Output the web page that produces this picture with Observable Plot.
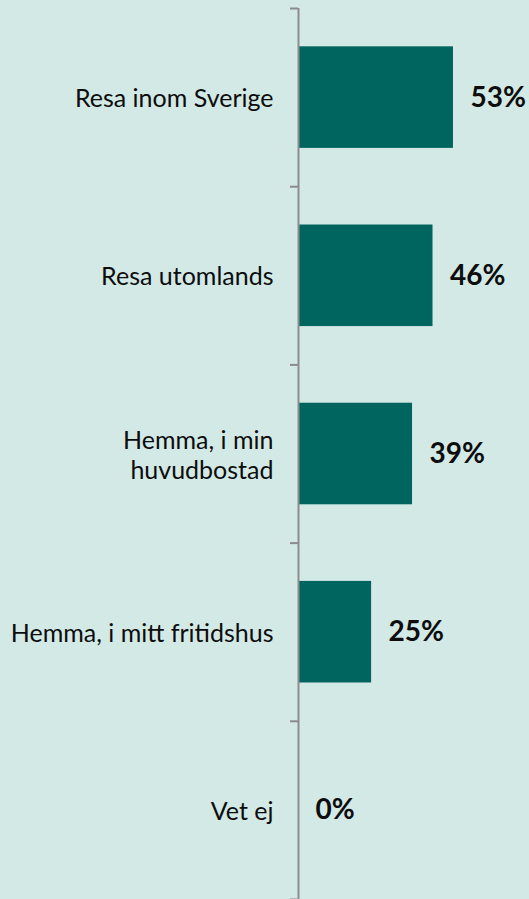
<!DOCTYPE html>
<html><head><meta charset="utf-8">
<script src="https://cdn.jsdelivr.net/npm/d3@7"></script>
<script src="https://cdn.jsdelivr.net/npm/@observablehq/plot@0.6"></script>
<style>html,body{margin:0;padding:0;background:#d2e9e6;}</style>
</head><body><div id="chart"></div>
<script>
const categories = ["Resa inom Sverige", "Resa utomlands", "Hemma, i min\nhuvudbostad", "Hemma, i mitt fritidshus", "Vet ej"];
const values = [53, 46, 39, 25, 0];
const valueLabels = ["53%", "46%", "39%", "25%", "0%"];

const data = categories.map((c, i) => ({category: c, value: values[i], label: valueLabels[i], i}));
const barPad = 0.215;

const chart = Plot.plot({
  width: 529, height: 899,
  marginLeft: 298, marginRight: 0, marginTop: 8, marginBottom: 0,
  style: {background: "#d2e9e6", fontFamily: "Lato, sans-serif", color: "#0d0d0d"},
  x: {domain: [0, 79], axis: null},
  y: {domain: [0, categories.length], reverse: true, axis: null},
  marks: [
    Plot.rectX(data, {x1: 0, x2: "value", y1: d => d.i + barPad, y2: d => d.i + 1 - barPad, fill: "#00645f"}),
    Plot.axisY({ticks: d3.range(categories.length + 1), tickFormat: () => "", tickSize: 8, stroke: "#8c8c8c", strokeWidth: 2, strokeOpacity: 1}),
    Plot.ruleX([0], {stroke: "#8c8c8c", strokeWidth: 2}),
    Plot.text(data, {x: 0, y: d => d.i + 0.5, text: "category", textAnchor: "end", dx: -25, fontSize: 25, lineHeight: 1.2, fill: "#0d0d0d"}),
    Plot.text(data, {x: "value", y: d => d.i + 0.5, text: "label", textAnchor: "start", dx: 17, fontSize: 28, fontWeight: "bold", fill: "#0d0d0d"})
  ]
});
document.getElementById("chart").append(chart);
</script>
</body></html>
